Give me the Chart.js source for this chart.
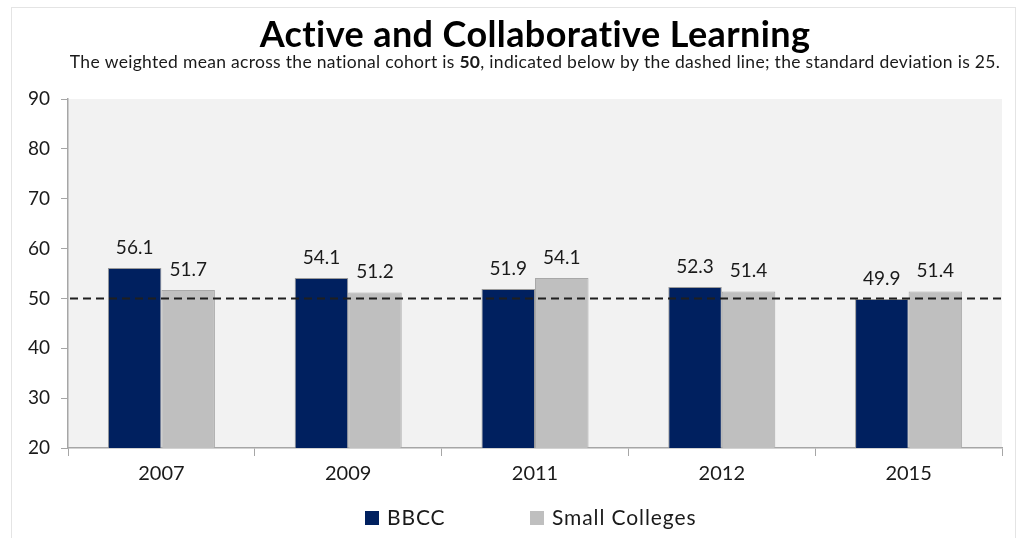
<!DOCTYPE html>
<html>
<head>
<meta charset="utf-8">
<title>Active and Collaborative Learning</title>
<script src="https://cdn.jsdelivr.net/npm/chart.js@4.4.1/dist/chart.umd.min.js"></script>
<style>
  html, body { margin: 0; padding: 0; background: #fff; }
  #chart { display: block; }
</style>
</head>
<body>
<canvas id="chart" width="1016" height="538"></canvas>
<script>
// survey years and benchmark scores
var years = ['2007', '2009', '2011', '2012', '2015'];
var bbccScores = [56.1, 54.1, 51.9, 52.3, 49.9];
var smallCollegeScores = [51.7, 51.2, 54.1, 51.4, 51.4];
var nationalMean = 50;
var yTicks = [20, 30, 40, 50, 60, 70, 80, 90];

var FONT = 'Lato, "Open Sans", sans-serif';
var TEXT = '#1a1a1a';
var AXIS = '#a6a6a6';

// frame, plot background, title lines
var backdrop = {
    id: 'backdrop',
    beforeDraw: function (chart) {
        var ctx = chart.ctx, a = chart.chartArea;
        ctx.save();
        ctx.strokeStyle = '#e4e4e4';
        ctx.lineWidth = 1;
        ctx.strokeRect(11.5, 7.5, chart.width - 12, chart.height - 6);
        ctx.fillStyle = '#f2f2f2';
        ctx.fillRect(a.left, a.top, a.right - a.left, a.bottom - a.top);

        var cx = (a.left + a.right) / 2;
        ctx.fillStyle = '#000';
        ctx.textBaseline = 'alphabetic';
        ctx.textAlign = 'center';
        ctx.letterSpacing = '0.4px';
        ctx.font = 'bold 36px ' + FONT;
        ctx.fillText('Active and Collaborative Learning', cx, 47);

        // subtitle has a bold run in the middle
        var runs = [
            ['normal', 'The weighted mean across the national cohort is '],
            ['bold', String(nationalMean)],
            ['normal', ', indicated below by the dashed line; the standard deviation is 25.']
        ];
        ctx.letterSpacing = '0.3px';
        var total = 0;
        runs.forEach(function (r) {
            ctx.font = r[0] + ' 17.5px ' + FONT;
            r.push(ctx.measureText(r[1]).width);
            total += r[2];
        });
        var x = cx - total / 2;
        ctx.textAlign = 'left';
        ctx.fillStyle = TEXT;
        runs.forEach(function (r) {
            ctx.font = r[0] + ' 17.5px ' + FONT;
            ctx.fillText(r[1], x, 68);
            x += r[2];
        });
        ctx.restore();
    }
};

// value labels above bars, dashed mean line, legend
var overlay = {
    id: 'overlay',
    afterDatasetsDraw: function (chart) {
        var ctx = chart.ctx, a = chart.chartArea;
        ctx.save();
        ctx.font = '19px ' + FONT;
        ctx.fillStyle = TEXT;
        ctx.textAlign = 'center';
        ctx.textBaseline = 'alphabetic';
        chart.data.datasets.forEach(function (ds, i) {
            chart.getDatasetMeta(i).data.forEach(function (bar, j) {
                ctx.fillText(ds.data[j].toFixed(1), bar.x, bar.y - 14);
            });
        });

        var y = chart.scales.y.getPixelForValue(nationalMean);
        ctx.strokeStyle = '#1f1f1f';
        ctx.lineWidth = 2;
        ctx.setLineDash([8, 5]);
        ctx.beginPath();
        ctx.moveTo(a.left + 2, y);
        ctx.lineTo(a.right, y);
        ctx.stroke();
        ctx.setLineDash([]);

        // legend
        ctx.font = '21px ' + FONT;
        ctx.letterSpacing = '0.9px';
        ctx.textAlign = 'left';
        ctx.textBaseline = 'middle';
        var lx = [365, 530], ly = 518;
        chart.data.datasets.forEach(function (ds, i) {
            ctx.fillStyle = ds.backgroundColor;
            ctx.fillRect(lx[i], ly - 7, 14, 14);
            ctx.fillStyle = TEXT;
            ctx.fillText(ds.label, lx[i] + 22, ly);
        });
        ctx.restore();
    }
};

new Chart(document.getElementById('chart'), {
    type: 'bar',
    data: {
        labels: years,
        datasets: [{
            label: 'BBCC',
            data: bbccScores,
            backgroundColor: '#00205f',
            borderColor: '#9a9a9a',
            borderWidth: 1,
            categoryPercentage: 0.573,
            barPercentage: 1.0
        }, {
            label: 'Small Colleges',
            data: smallCollegeScores,
            backgroundColor: '#bfbfbf',
            borderColor: '#a8a8a8',
            borderWidth: 1,
            categoryPercentage: 0.573,
            barPercentage: 1.0
        }]
    },
    options: {
        responsive: false,
        animation: false,
        devicePixelRatio: 1,
        layout: { padding: { top: 99, left: 11, right: 14, bottom: 50 } },
        plugins: {
            legend: { display: false },
            tooltip: { enabled: false },
            title: { display: false }
        },
        scales: {
            x: {
                afterFit: function (s) { s.height = 40; },
                grid: {
                    offset: true,
                    drawOnChartArea: false,
                    drawTicks: true,
                    tickLength: 8,
                    color: AXIS,
                    lineWidth: 1
                },
                border: { display: true, color: AXIS, width: 1.5 },
                ticks: { color: TEXT, font: { family: FONT, size: 20 }, padding: 6 }
            },
            y: {
                min: 20,
                max: 90,
                afterFit: function (s) { s.width = 57; },
                afterBuildTicks: function (s) {
                    s.ticks = yTicks.map(function (v) { return { value: v }; });
                },
                grid: {
                    drawOnChartArea: false,
                    drawTicks: true,
                    tickLength: 7,
                    color: AXIS,
                    lineWidth: 1
                },
                border: { display: true, color: AXIS, width: 1.5 },
                ticks: { color: TEXT, font: { family: FONT, size: 19 }, padding: 11 }
            }
        }
    },
    plugins: [backdrop, overlay]
});
</script>
</body>
</html>
